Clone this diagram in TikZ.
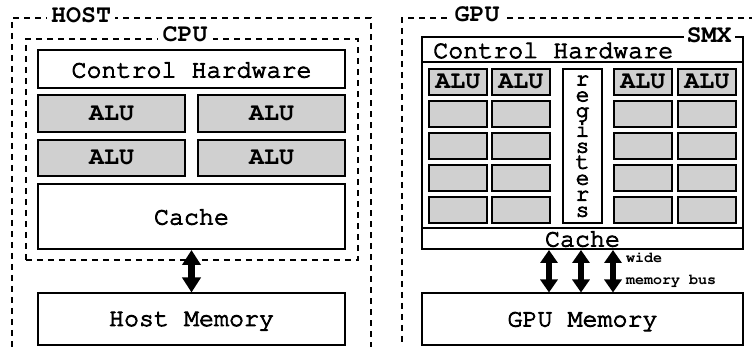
\documentclass[tikz,border=0pt]{standalone}
\usepackage[T1]{fontenc}
\usetikzlibrary{arrows.meta}
\definecolor{alugray}{RGB}{208,208,208}
\newcommand{\courreg}{\fontfamily{pcr}\fontseries{m}\fontsize{25}{30}\selectfont}
\newcommand{\courbold}{\fontfamily{pcr}\fontseries{b}\fontsize{25}{30}\selectfont}
\newcommand{\heavy}[1]{\special{pdf:literal direct 2 Tr 0.9 w}#1\special{pdf:literal direct 0 Tr}}
\begin{document}
\begin{tikzpicture}[x=1pt,y=-1pt,font=\courreg,
  box/.style={draw, line width=2pt, inner sep=0pt, anchor=north west, text depth=0pt},
  alubox/.style={box, fill=alugray, font=\courbold},
  dashbox/.style={draw, dash pattern=on 6pt off 5pt, line width=1.7pt, inner sep=0pt, anchor=north west},
  lbl/.style={fill=white, inner xsep=4pt, inner ysep=1pt, anchor=base, font=\courbold},
  cpuarr/.style={{Triangle[width=18pt,length=15pt]}-{Triangle[width=18pt,length=15pt]}, line width=6.5pt},
  gpuarr/.style={{Triangle[width=17pt,length=13pt]}-{Triangle[width=17pt,length=13pt]}, line width=5.5pt},
  small/.style={anchor=base west, inner sep=0pt, font=\fontfamily{pcr}\fontseries{b}\fontsize{15}{18}\selectfont}]
\useasboundingbox (0,0) rectangle (752,347);
\clip (0,0) rectangle (752,347);
% ---------- HOST ----------
\node[dashbox, minimum width=359pt, minimum height=400pt] (host) at (11,17) {};
\node[lbl] (hostl) at (81,22.5) {HOST};
\node[dashbox, minimum width=332pt, minimum height=221pt] (cpu) at (25,38) {};
\node[lbl, inner xsep=5pt] (cpul) at (185,41.5) {CPU};
\node[box, fill=white, minimum width=307pt, minimum height=38pt] (ctrl) at (37,49.5) {\heavy{Control Hardware}};
\node[alubox, minimum width=147pt, minimum height=37pt] (a11) at (37,94) {ALU};
\node[alubox, minimum width=147pt, minimum height=37pt] (a12) at (197,94) {ALU};
\node[alubox, minimum width=147pt, minimum height=36pt] (a21) at (37,139) {ALU};
\node[alubox, minimum width=147pt, minimum height=36pt] (a22) at (197,139) {ALU};
\node[box, fill=white, minimum width=307pt, minimum height=65pt] (cache) at (37,183) {\heavy{Cache}};
\node[box, fill=white, minimum width=307pt, minimum height=51pt] (hostmem) at (37,292.5) {\heavy{Host Memory}};
\draw[cpuarr] (cache) -- (hostmem);
% ---------- GPU ----------
\node[dashbox, minimum width=400pt, minimum height=400pt] (gpu) at (401,17) {};
\node[lbl] (gpul) at (477,22) {GPU};
\node[box, minimum width=321pt, minimum height=212pt] (smx) at (421,36) {};
\node[anchor=west, inner sep=0pt, text depth=0pt] (gctrl) at (433,50) {\heavy{Control Hardware}};
\draw[line width=2pt] (smx.west |- 0,62) -- (smx.east |- 0,62);
\node[lbl, inner xsep=3pt] (smxl) at (709,42.5) {SMX};
\foreach \c/\x in {1/428,2/491,3/613,4/677}{
  \node[alubox, minimum width=57.5pt, minimum height=26pt] (g1\c) at (\x,68) {ALU};
  \foreach \r/\y in {2/100,3/132,4/164,5/196}{
    \node[alubox, minimum width=57.5pt, minimum height=26pt] (g\r\c) at (\x,\y) {};
  }
}
\node[box, fill=white, minimum width=39pt, minimum height=154pt, align=center,
  font=\fontfamily{pcr}\fontseries{m}\fontsize{23}{16}\selectfont] (reg) at (562,68)
  {\heavy{r}\\\heavy{e}\\\heavy{g}\\\heavy{i}\\\heavy{s}\\\heavy{t}\\\heavy{e}\\\heavy{r}\\\heavy{s}};
\node[box, fill=white, minimum width=321pt, minimum height=21pt] (gcache) at (421,227) {\heavy{Cache}};
\node[box, fill=white, minimum width=321pt, minimum height=51pt] (gmem) at (421,292.5) {\heavy{GPU Memory}};
\draw[gpuarr] (gcache.south -| 549,0) -- (gmem.north -| 549,0);
\draw[gpuarr] (gcache.south -| 581,0) -- (gmem.north -| 581,0);
\draw[gpuarr] (gcache.south -| 613,0) -- (gmem.north -| 613,0);
\node[small] (wide) at (626,263) {wide};
\node[small] (mbus) at (626,284) {memory bus};
\end{tikzpicture}
\end{document}
